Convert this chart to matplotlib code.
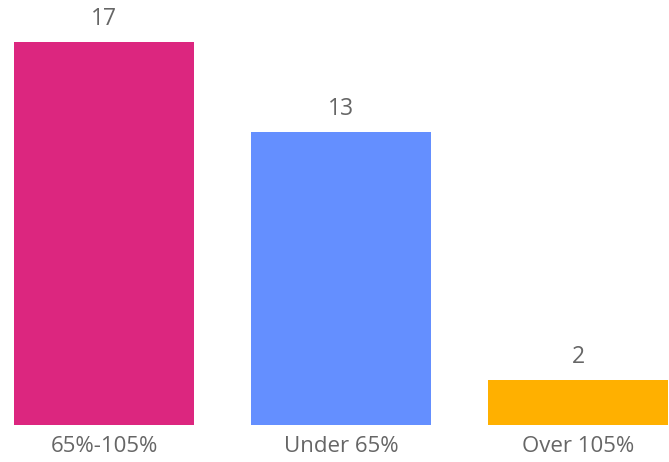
import matplotlib
matplotlib.use("Agg")
import matplotlib.pyplot as plt

# データ
categories = ["65%-105%", "Under 65%", "Over 105%"]
counts = [17, 13, 2]
colors = ["#DC267F", "#648FFF", "#FFB000"]

plt.rcParams['font.family'] = ['Open Sans', 'DejaVu Sans']

fig = plt.figure(figsize=(6.69, 4.62), dpi=100)
ax = fig.add_axes([14/669, 37/462, 654/669, 425/462])

x = list(range(len(categories)))
bars = ax.bar(x, counts, width=0.76, color=colors)

for b, v in zip(bars, counts):
    ax.annotate(str(v), (b.get_x() + b.get_width()/2, v), xytext=(0, 8),
                textcoords="offset points", ha="center", va="bottom",
                fontsize=16.5, color="#666666")

ax.set_xlim(-0.38, 2.38)
ax.set_ylim(0, 18.86)
ax.set_xticks(x)
ax.set_xticklabels(categories, fontsize=16, color="#666666")
ax.tick_params(axis="x", length=0, pad=8)
ax.set_yticks([])
for s in ax.spines.values():
    s.set_visible(False)

fig.savefig("out.png", dpi=100)
